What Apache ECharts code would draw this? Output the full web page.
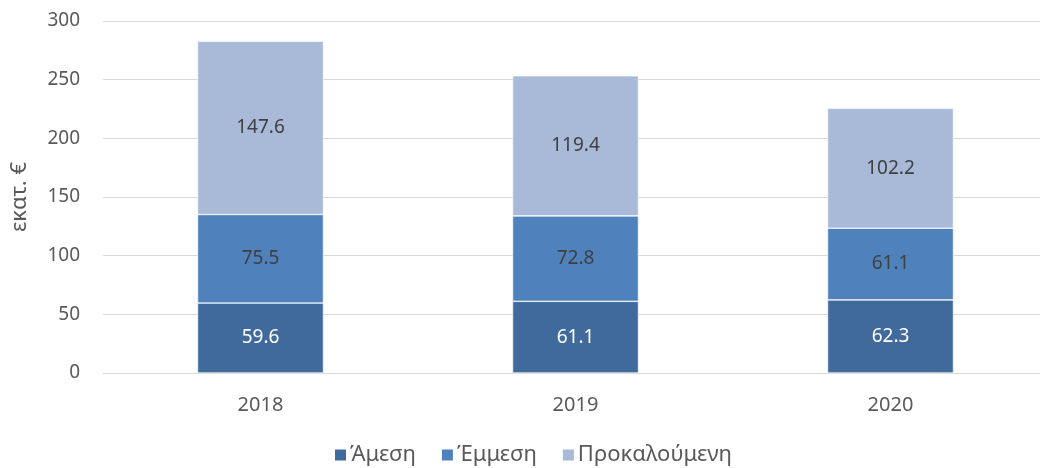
<!DOCTYPE html>
<html>
<head>
<meta charset="utf-8">
<script src="https://cdn.jsdelivr.net/npm/echarts@6/dist/echarts.min.js"></script>
<style>
  html, body { margin: 0; padding: 0; background: #fff; }
  #chart { width: 1040px; height: 468px; }
</style>
</head>
<body>
<div id="chart"></div>
<script>
  var years = ['2018', '2019', '2020']
  var direct = [59.6, 61.1, 62.3]
  var indirect = [75.5, 72.8, 61.1]
  var induced = [147.6, 119.4, 102.2]
  var seriesNames = ['Άμεση', 'Έμμεση', 'Προκαλούμενη']
  var colors = ['#3f6a9b', '#4f81bd', '#a9b9d8']

  var font = '"Noto Sans", "DejaVu Sans", sans-serif'

  function makeSeries(name, data, color, labelColor) {
    return {
      name: name,
      type: 'bar',
      stack: 'total',
      barWidth: 126,
      data: data,
      itemStyle: {
        color: color,
        borderColor: '#ffffff',
        borderWidth: 0.6
      },
      label: {
        show: true,
        position: 'inside',
        color: labelColor,
        fontFamily: font,
        fontSize: 19,
        formatter: function (p) { return p.value.toFixed(1) }
      }
    }
  }

  var chart = echarts.init(document.getElementById('chart'))
  chart.setOption({
    animation: false,
    textStyle: { fontFamily: font },
    color: colors,
    grid: {
      left: 103,
      top: 21,
      width: 945,
      height: 352,
      outerBoundsMode: 'none',
      containLabel: false
    },
    legend: {
      top: 439,
      left: 328,
      itemWidth: 13,
      itemHeight: 13,
      itemGap: 24,
      icon: 'rect',
      textStyle: { color: '#595959', fontSize: 22, fontFamily: font, padding: [0, 0, 0, -2] }
    },
    xAxis: {
      type: 'category',
      data: years,
      axisLine: { show: true, lineStyle: { color: '#d9d9d9', width: 1 } },
      axisTick: { show: false },
      axisLabel: { color: '#595959', fontSize: 20, margin: 22, fontFamily: font }
    },
    yAxis: {
      type: 'value',
      min: 0,
      max: 300,
      interval: 50,
      name: 'εκατ. €',
      nameLocation: 'middle',
      nameGap: 72,
      nameRotate: 90,
      nameTextStyle: { color: '#595959', fontSize: 22, fontFamily: font },
      axisLine: { show: false },
      axisTick: { show: false },
      axisLabel: { color: '#595959', fontSize: 19, margin: 23, fontFamily: font },
      splitLine: { lineStyle: { color: '#d9d9d9', width: 1 } }
    },
    series: [
      makeSeries(seriesNames[0], direct, colors[0], '#ffffff'),
      makeSeries(seriesNames[1], indirect, colors[1], '#404040'),
      makeSeries(seriesNames[2], induced, colors[2], '#404040')
    ]
  })
</script>
</body>
</html>
